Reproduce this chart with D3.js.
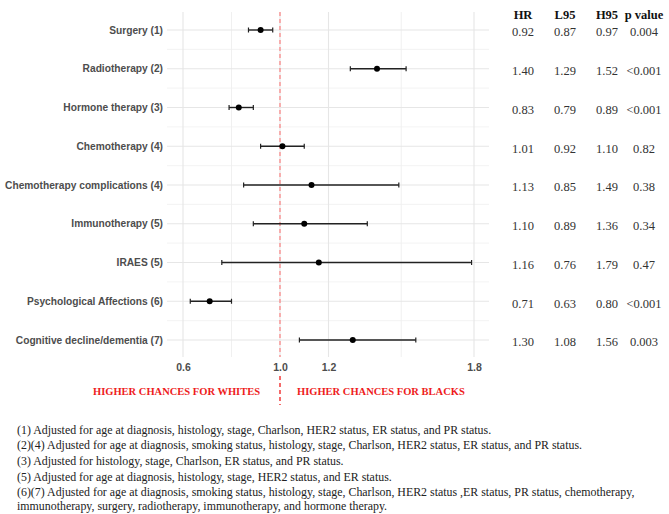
<!DOCTYPE html>
<html><head><meta charset="utf-8">
<script src="https://cdn.jsdelivr.net/npm/d3@7"></script>
<style>body{margin:0;background:#fff}svg{display:block}</style>
</head><body>
<svg id="c" width="669" height="514"></svg>
<script>
const categories = ["Surgery (1)","Radiotherapy (2)","Hormone therapy (3)","Chemotherapy (4)","Chemotherapy complications (4)","Immunotherapy (5)","IRAES (5)","Psychological Affections (6)","Cognitive decline/dementia (7)"];
const hr  = [0.92,1.40,0.83,1.01,1.13,1.10,1.16,0.71,1.30];
const l95 = [0.87,1.29,0.79,0.92,0.85,0.89,0.76,0.63,1.08];
const h95 = [0.97,1.52,0.89,1.10,1.49,1.36,1.79,0.80,1.56];
const pval = ["0.004","<0.001","<0.001","0.82","0.38","0.34","0.47","<0.001","0.003"];
const tableHeaders = ["HR","L95","H95","p value"];
const xTicks = [0.6,1.0,1.2,1.8];
const xMinor = [0.8,1.5];
const footnotes = [
 "(1) Adjusted for age at diagnosis, histology, stage, Charlson, HER2 status, ER status, and PR status.",
 "(2)(4) Adjusted for age at diagnosis, smoking status, histology, stage, Charlson, HER2 status, ER status, and PR status.",
 "(3) Adjusted for histology, stage, Charlson, ER status, and PR status.",
 "(5) Adjusted for age at diagnosis, histology, stage, HER2 status, and ER status.",
 "(6)(7) Adjusted for age at diagnosis, smoking status, histology, stage, Charlson, HER2 status ,ER status, PR status, chemotherapy,",
 "immunotherapy, surgery, radiotherapy, immunotherapy, and hormone therapy."
];
const sideLabels = ["HIGHER CHANCES FOR WHITES","HIGHER CHANCES FOR BLACKS"];

const svg = d3.select("#c");
const panel = {left:167, right:489, top:12, bottom:357};
const x = d3.scaleLinear().domain([0.6,1.8]).range([183,474]);
const y = d3.scalePoint().domain(categories).range([30,340]);
const step = y.step();

// grid
const g = svg.append("g");
g.selectAll(".hmin").data(categories.slice(0,-1)).join("line")
 .attr("x1",panel.left).attr("x2",panel.right)
 .attr("y1",d=>y(d)+step/2).attr("y2",d=>y(d)+step/2)
 .attr("stroke","#f0f0f0").attr("stroke-width",0.8);
g.selectAll(".vmin").data(xMinor).join("line")
 .attr("x1",d=>x(d)).attr("x2",d=>x(d)).attr("y1",panel.top).attr("y2",panel.bottom)
 .attr("stroke","#eeeeee").attr("stroke-width",0.9);
g.selectAll(".hmaj").data(categories).join("line")
 .attr("x1",panel.left).attr("x2",panel.right)
 .attr("y1",d=>y(d)).attr("y2",d=>y(d))
 .attr("stroke","#e6e6e6").attr("stroke-width",1.1);
g.selectAll(".vmaj").data(xTicks).join("line")
 .attr("x1",d=>x(d)).attr("x2",d=>x(d)).attr("y1",panel.top).attr("y2",panel.bottom)
 .attr("stroke","#e6e6e6").attr("stroke-width",1.1);

// reference line
svg.append("line").attr("x1",x(1)).attr("x2",x(1)).attr("y1",panel.top).attr("y2",panel.bottom)
 .attr("stroke","#ff5a5a").attr("stroke-opacity",0.8).attr("stroke-width",1.1).attr("stroke-dasharray","4,3");
svg.append("line").attr("x1",x(1)).attr("x2",x(1)).attr("y1",376).attr("y2",405)
 .attr("stroke","#ee1c1c").attr("stroke-width",1.3).attr("stroke-dasharray","4,3");

// error bars
const eb = svg.append("g");
categories.forEach((c,i)=>{
  const yy = y(c);
  eb.append("line").attr("x1",x(l95[i])).attr("x2",x(h95[i])).attr("y1",yy).attr("y2",yy)
    .attr("stroke","#222").attr("stroke-width",1.4);
  [l95[i],h95[i]].forEach(v=>{
    eb.append("line").attr("x1",x(v)).attr("x2",x(v)).attr("y1",yy-2.5).attr("y2",yy+2.5)
      .attr("stroke","#222").attr("stroke-width",1.2);
  });
});
svg.append("g").selectAll("circle").data(categories).join("circle")
 .attr("cx",(d,i)=>x(hr[i])).attr("cy",d=>y(d)).attr("r",3).attr("fill","#000");

// y labels
svg.append("g").selectAll("text").data(categories).join("text")
 .attr("x",163).attr("y",d=>y(d)).attr("dy","0.35em").attr("text-anchor","end")
 .attr("font-family","Liberation Sans, Arial, sans-serif").attr("font-weight","bold")
 .attr("font-size",10.2).attr("fill","#4d4d4d").text(d=>d);

// x axis labels
const xa = svg.append("g").attr("transform","translate(0,367)")
 .call(d3.axisBottom(x).tickValues(xTicks).tickFormat(d3.format(".1f")).tickSize(0).tickPadding(0));
xa.select(".domain").remove();
xa.selectAll("text").attr("dy","0.35em").attr("font-family","Liberation Sans, Arial, sans-serif")
 .attr("font-weight","bold").attr("font-size",10.5).attr("fill","#4d4d4d");

// side labels
const serif = "Liberation Serif, Times New Roman, serif";
svg.append("text").attr("x",260).attr("y",395).attr("text-anchor","end")
 .attr("font-family",serif).attr("font-weight","bold").attr("font-size",10.5).attr("fill","#ee1c1c").text(sideLabels[0]);
svg.append("text").attr("x",297).attr("y",395).attr("text-anchor","start")
 .attr("font-family",serif).attr("font-weight","bold").attr("font-size",10.5).attr("fill","#ee1c1c").text(sideLabels[1]);

// table
const colX = [523,565,607,644];
svg.append("g").selectAll("text").data(tableHeaders).join("text")
 .attr("x",(d,i)=>colX[i]).attr("y",19).attr("text-anchor","middle")
 .attr("font-family",serif).attr("font-weight","bold").attr("font-size",12.5).attr("fill","#111").text(d=>d);
const tg = svg.append("g").attr("font-family",serif).attr("font-size",12.5).attr("fill","#333").attr("text-anchor","middle");
categories.forEach((c,i)=>{
  const vals = [hr[i].toFixed(2),l95[i].toFixed(2),h95[i].toFixed(2),pval[i]];
  vals.forEach((v,j)=>{
    tg.append("text").attr("x",colX[j]).attr("y",y(c)+2).attr("dy","0.35em").text(v);
  });
});

// footnotes
svg.append("g").selectAll("text").data(footnotes).join("text")
 .attr("x",17).attr("y",(d,i)=>[434,449,465,481,496,510][i])
 .attr("font-family",serif).attr("font-size",11.9).attr("fill","#222").text(d=>d);
</script>
</body></html>
